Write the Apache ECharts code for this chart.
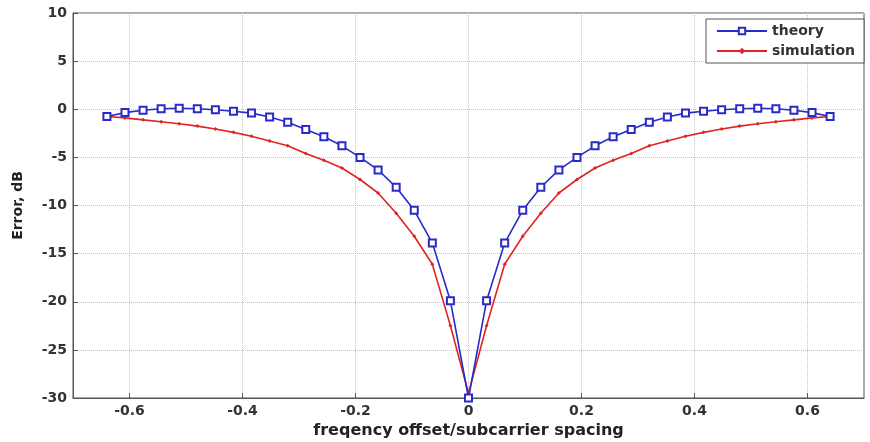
<!DOCTYPE html>
<html>
<head>
<meta charset="utf-8">
<script src="https://cdn.jsdelivr.net/npm/echarts@6/dist/echarts.min.js"></script>
<style>
  html, body { margin: 0; padding: 0; background: #fff; }
  #errorChart { width: 870px; height: 442px; }
</style>
</head>
<body>
<div id="errorChart"></div>
<script>
// frequency offset / subcarrier spacing
var offsets = [-0.64, -0.608, -0.576, -0.544, -0.512, -0.48, -0.448, -0.416, -0.384, -0.352,
    -0.32, -0.288, -0.256, -0.224, -0.192, -0.16, -0.128, -0.096, -0.064, -0.032, 0,
    0.032, 0.064, 0.096, 0.128, 0.16, 0.192, 0.224, 0.256, 0.288, 0.32,
    0.352, 0.384, 0.416, 0.448, 0.48, 0.512, 0.544, 0.576, 0.608, 0.64];
var theory = [-0.75, -0.35, -0.1, 0.05, 0.1, 0.05, -0.05, -0.2, -0.4, -0.8,
    -1.35, -2.1, -2.85, -3.8, -5.0, -6.3, -8.1, -10.5, -13.9, -19.9, -30,
    -19.9, -13.9, -10.5, -8.1, -6.3, -5.0, -3.8, -2.85, -2.1, -1.35,
    -0.8, -0.4, -0.2, -0.05, 0.05, 0.1, 0.05, -0.1, -0.35, -0.75];
var simulation = [-0.75, -0.9, -1.1, -1.3, -1.5, -1.75, -2.05, -2.4, -2.8, -3.3,
    -3.8, -4.6, -5.3, -6.1, -7.3, -8.7, -10.8, -13.2, -16.1, -22.5, -29.5,
    -22.5, -16.1, -13.2, -10.8, -8.7, -7.3, -6.1, -5.3, -4.6, -3.8,
    -3.3, -2.8, -2.4, -2.05, -1.75, -1.5, -1.3, -1.1, -0.9, -0.75];
var xTicks = [-0.6, -0.4, -0.2, 0, 0.2, 0.4, 0.6];
var seriesNames = ['theory', 'simulation'];

function pairs(ys) {
    return offsets.map(function (x, i) { return [x, ys[i]]; });
}

var fontFam = '"DejaVu Sans", "Liberation Sans", Arial, sans-serif';
var errorChart = echarts.init(document.getElementById('errorChart')),
errorOption = {
    animation: false,
    backgroundColor: '#fff',
    textStyle: { fontFamily: fontFam },
    grid: {
        left: 73,
        right: 6,
        top: 13,
        bottom: 44,
        outerBoundsMode: 'none',
        show: true,
        borderColor: '#555',
        borderWidth: 1
    },
    legend: {
        data: seriesNames,
        orient: 'vertical',
        right: 6,
        top: 19,
        itemWidth: 50,
        itemHeight: 8,
        itemGap: 6,
        padding: [5, 9, 5, 10],
        backgroundColor: '#fff',
        borderColor: '#555',
        borderWidth: 1,
        borderRadius: 0,
        textStyle: { fontSize: 14, fontWeight: 'bold', color: '#333', fontFamily: fontFam }
    },
    xAxis: {
        type: 'value',
        min: -0.7,
        max: 0.7,
        name: 'freqency offset/subcarrier spacing',
        nameLocation: 'middle',
        nameGap: 22,
        nameTextStyle: { fontSize: 16, fontWeight: 'bold', color: '#222' },
        axisLine: { show: true, onZero: false, lineStyle: { color: '#555' } },
        axisTick: { inside: true, length: 5, customValues: xTicks, lineStyle: { color: '#555' } },
        axisLabel: {
            customValues: xTicks,
            fontSize: 14,
            fontWeight: 'bold',
            color: '#333',
            margin: 6
        },
        splitLine: { show: true, lineStyle: { color: '#c4c4c4', type: 'dotted' } }
    },
    yAxis: {
        type: 'value',
        min: -30,
        max: 10,
        interval: 5,
        name: 'Error, dB',
        nameLocation: 'middle',
        nameGap: 48,
        nameTextStyle: { fontSize: 14, fontWeight: 'bold', color: '#222' },
        axisLine: { show: true, onZero: false, lineStyle: { color: '#555' } },
        axisTick: { inside: true, length: 5, lineStyle: { color: '#555' } },
        axisLabel: { fontSize: 14, fontWeight: 'bold', color: '#333', margin: 6 },
        splitLine: { show: true, lineStyle: { color: '#c4c4c4', type: 'dotted' } }
    },
    series: [
        {
            name: seriesNames[0],
            type: 'line',
            data: pairs(theory),
            symbol: 'emptyRect',
            symbolSize: 7,
            z: 3,
            itemStyle: { color: '#2a2ac8', borderWidth: 1.5 },
            lineStyle: { color: '#2a2ac8', width: 1.6 }
        },
        {
            name: seriesNames[1],
            type: 'line',
            data: pairs(simulation),
            symbol: 'diamond',
            symbolSize: 4,
            z: 2,
            itemStyle: { color: '#e02424' },
            lineStyle: { color: '#e02424', width: 1.6 }
        }
    ]
};
errorChart.setOption(errorOption);
</script>
</body>
</html>
